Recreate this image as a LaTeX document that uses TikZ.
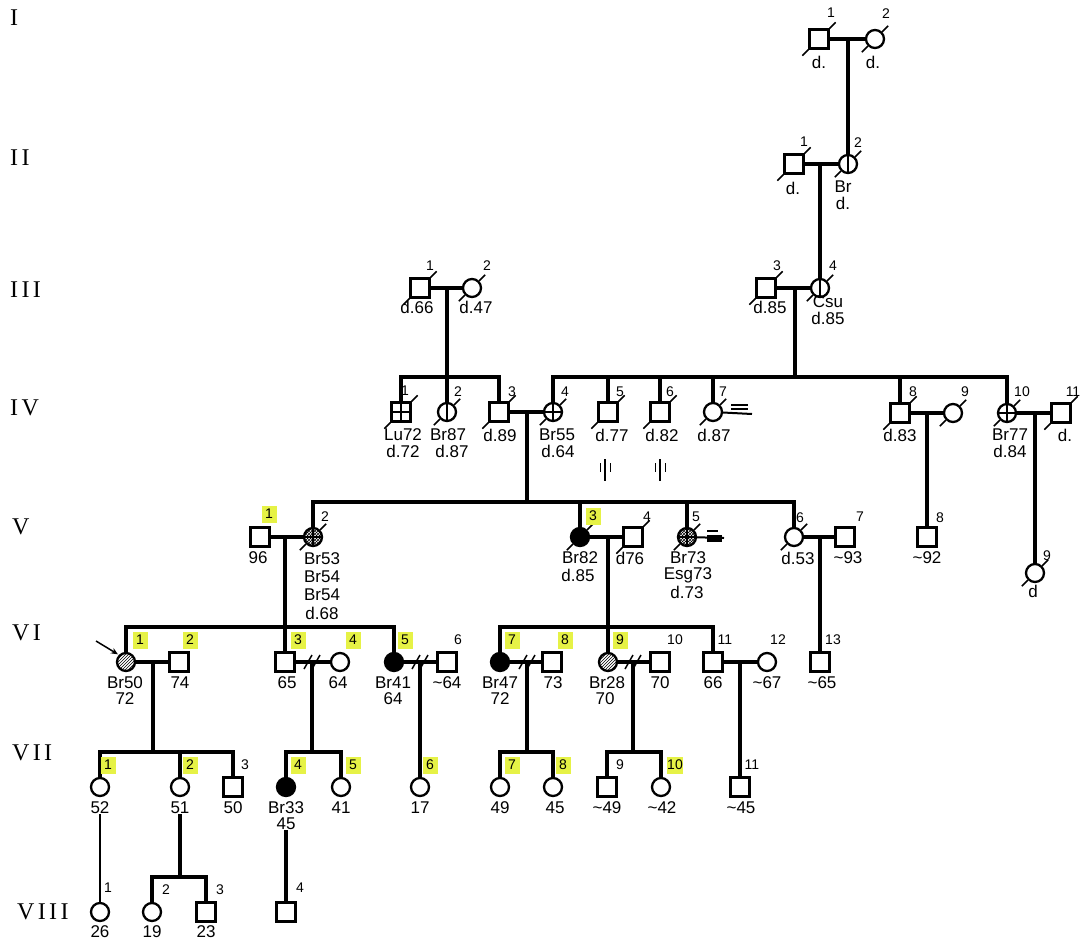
\documentclass[tikz,border=0pt]{standalone}
\usepackage{fontspec}
\setmainfont{Liberation Sans}
\newfontfamily\romfont[LetterSpace=14]{Liberation Serif}
\usetikzlibrary{patterns,arrows.meta}
\definecolor{hl}{RGB}{230,242,70}
\newcommand\lblfont{\fontsize{17}{18}\selectfont}
\newcommand\numfont{\fontsize{14}{15}\selectfont}
\newcommand\genfont{\romfont\fontsize{24}{25}\selectfont}
\newcommand\ttl{\textasciitilde}
\newcommand\dead[1]{\draw[tick] (#1.north east) -- ++(6,-6); \draw[tick] (#1.south west) -- ++(-6,6);}
\newcommand\vbar[1]{\draw[inner] (#1.north) -- (#1.south);}
\newcommand\cross[1]{\draw[inner] (#1.north) -- (#1.south); \draw[inner] (#1.west) -- (#1.east);}
\newcommand\divmark[2]{\draw[tick] (#1-8,#2+7) -- (#1,#2-7); \draw[tick] (#1,#2+7) -- (#1+8,#2-7);}
\begin{document}
\begin{tikzpicture}[x=1pt,y=-1pt,
  conn/.style={line width=3.2pt},
  thinconn/.style={line width=1.3pt},
  sq/.style={draw, rectangle, minimum size=19pt, inner sep=0pt, line width=2.3pt, fill=white},
  ci/.style={draw, circle, minimum size=18pt, inner sep=0pt, line width=2.3pt, fill=white},
  aff/.style={fill=black},
  hatch/.style={pattern=north east lines},
  dots/.style={pattern=crosshatch},
  tick/.style={line width=1.5pt},
  inner/.style={line width=1.8pt},
  lbl/.style={font=\lblfont, inner sep=0pt},
  num/.style={font=\numfont, inner sep=0pt},
  hlnum/.style={font=\numfont, inner sep=0pt, fill=hl, minimum width=15pt, minimum height=17pt},
  gen/.style={font=\genfont, anchor=west, inner sep=0pt}]
\fill[white] (0,0) rectangle (1083,942);
\useasboundingbox (0,0) rectangle (1083,942);

% generation labels
\node[gen] (gI) at (10,18) {I};
\node[gen] (gII) at (10,158) {II};
\node[gen] (gIII) at (10,290) {III};
\node[gen] (gIV) at (10,408) {IV};
\node[gen] (gV) at (12,527) {V};
\node[gen] (gVI) at (12,633) {VI};
\node[gen] (gVII) at (12,753) {VII};
\node[gen] (gVIII) at (17,912) {VIII};

% ---------- symbols ----------
% I
\node[sq] (I1) at (819,39) {};
\node[ci] (I2) at (875,39) {};
% II
\node[sq] (II1) at (794,164) {};
\node[ci] (II2) at (848,164) {};
% III
\node[sq] (III1) at (420,288) {};
\node[ci] (III2) at (472,288) {};
\node[sq] (III3) at (766,288) {};
\node[ci] (III4) at (820,288) {};
% IV
\node[sq] (IV1) at (401,412) {};
\node[ci] (IV2) at (447,412) {};
\node[sq] (IV3) at (499,412) {};
\node[ci] (IV4) at (553,412) {};
\node[sq] (IV5) at (608,412) {};
\node[sq] (IV6) at (660,412) {};
\node[ci] (IV7) at (713,412) {};
\node[sq] (IV8) at (900,413) {};
\node[ci] (IV9) at (953,413) {};
\node[ci] (IV10) at (1007,413) {};
\node[sq] (IV11) at (1061,413) {};
% V
\node[sq] (V1) at (260,537) {};
\node[ci,dots] (V2) at (313,537) {};
\node[ci,aff] (V3) at (580,537) {};
\node[sq] (V4) at (633,537) {};
\node[ci,dots] (V5) at (687,537) {};
\node[ci] (V6) at (794,537) {};
\node[sq] (V7) at (845,537) {};
\node[sq] (V8) at (927,537) {};
\node[ci] (V9) at (1035,573) {};
% VI
\node[ci,hatch] (VI1) at (126,662) {};
\node[sq] (VI2) at (179,662) {};
\node[sq] (VI3) at (285,662) {};
\node[ci] (VI4) at (340,662) {};
\node[ci,aff] (VI5) at (394,662) {};
\node[sq] (VI6) at (447,662) {};
\node[ci,aff] (VI7) at (500,662) {};
\node[sq] (VI8) at (552,662) {};
\node[ci,hatch] (VI9) at (608,662) {};
\node[sq] (VI10) at (660,662) {};
\node[sq] (VI11) at (713,662) {};
\node[ci] (VI12) at (767,662) {};
\node[sq] (VI13) at (820,662) {};
% VII
\node[ci] (VII1) at (100,787) {};
\node[ci] (VII2) at (180,787) {};
\node[sq] (VII3) at (233,787) {};
\node[ci,aff] (VII4) at (286,787) {};
\node[ci] (VII5) at (341,787) {};
\node[ci] (VII6) at (420,787) {};
\node[ci] (VII7) at (500,787) {};
\node[ci] (VII8) at (553,787) {};
\node[sq] (VII9) at (607,787) {};
\node[ci] (VII10) at (661,787) {};
\node[sq] (VII11) at (740,787) {};
% VIII
\node[ci] (VIII1) at (100,912) {};
\node[ci] (VIII2) at (152,912) {};
\node[sq] (VIII3) at (206,912) {};
\node[sq] (VIII4) at (286,912) {};

% ---------- symbol marks ----------
\vbar{II2} \vbar{III4} \vbar{IV2}
\cross{IV4} \cross{IV10} \cross{V2} \cross{V5}
\draw[line width=2.6pt] (IV1.north) -- (IV1.south);
\draw[line width=2.6pt] (IV1.west) -- (IV1.east);
\foreach \p in {I1,I2,II1,II2,III1,III2,III3,III4,IV1,IV2,IV3,IV4,IV5,IV6,IV7,IV8,IV9,IV10,IV11,V2,V3,V4,V5,V6,V9}{\dead{\p}}

% ---------- coordinates ----------
\coordinate (mI) at (848,39);
\coordinate (mII) at (820,164);
\coordinate (mIIIa) at (447,288);
\coordinate (mIIIb) at (795,288);
\coordinate (sIVa) at (447,377);
\coordinate (sIVb) at (795,377);
\coordinate (mIVa) at (527,412);
\coordinate (mIVb) at (927,413);
\coordinate (mIVc) at (1035,413);
\coordinate (sVa) at (527,502);
\coordinate (mVa) at (285,537);
\coordinate (mVb) at (608,537);
\coordinate (mVc) at (820,537);
\coordinate (sVIa) at (285,627);
\coordinate (sVIb) at (608,627);
\coordinate (mVIa) at (153,662);
\coordinate (mVIb) at (312,662);
\coordinate (mVIc) at (420,662);
\coordinate (mVId) at (527,662);
\coordinate (mVIe) at (633,662);
\coordinate (mVIf) at (740,662);
\coordinate (sVIIa) at (153,752);
\coordinate (sVIIb) at (312,752);
\coordinate (sVIIc) at (527,752);
\coordinate (sVIId) at (633,752);
\coordinate (sVIIIa) at (180,877);

% ---------- connectors ----------
\draw[conn] (I1) -- (I2);
\draw[conn] (mI) -- (II2);
\draw[conn] (II1) -- (II2);
\draw[conn] (mII) -- (III4);
\draw[conn] (III1) -- (III2);
\draw[conn] (mIIIa) -- (sIVa);
\draw[conn] (III3) -- (III4);
\draw[conn] (mIIIb) -- (sIVb);
\draw[conn] (IV1) |- (sIVa) -| (IV3);
\draw[conn] (sIVa) -- (IV2);
\draw[conn] (IV4) |- (sIVb) -| (IV10);
\foreach \p in {IV5,IV6,IV7,IV8}{\draw[conn] (\p |- sIVb) -- (\p);}
\draw[conn] (IV3) -- (IV4);
\draw[conn] (mIVa) -- (sVa);
\draw[conn] (IV8) -- (IV9);
\draw[conn] (mIVb) -- (V8);
\draw[conn] (IV10) -- (IV11);
\draw[conn] (mIVc) -- (V9);
% IV-7 sign
\coordinate (eIV7) at (752,414);
\draw[line width=2pt] (IV7) -- (eIV7);
\draw[line width=1.1pt] (731,405) -- (748,405);
\draw[line width=1.1pt] (731,409) -- (748,409);
% V sibship
\draw[conn] (V2) |- (sVa) -| (V6);
\draw[conn] (V3 |- sVa) -- (V3);
\draw[conn] (V5 |- sVa) -- (V5);
\draw[conn] (V1) -- (V2);
\draw[conn] (mVa) -- (sVIa);
\draw[conn] (V3) -- (V4);
\draw[conn] (mVb) -- (sVIb);
\draw[conn] (V6) -- (V7);
\draw[conn] (mVc) -- (VI13);
% V-5 sign
\coordinate (eV5) at (724,538);
\draw[line width=2pt] (V5) -- (eV5);
\fill (707,535) rectangle (722,541.5);
\draw[line width=1.1pt] (707,531) -- (718,531);
% markers between IV and V
\draw[line width=2pt] (605,459) -- (605,481);
\draw[line width=1pt] (600,463) -- (600,472);
\draw[line width=1pt] (610,463) -- (610,472);
\draw[line width=2pt] (660,459) -- (660,481);
\draw[line width=1pt] (655,463) -- (655,472);
\draw[line width=1pt] (665,463) -- (665,472);
% VI sibships
\draw[conn] (VI1) |- (sVIa) -| (VI5);
\draw[conn] (sVIa) -- (VI3);
\draw[conn] (VI7) |- (sVIb) -| (VI11);
\draw[conn] (sVIb) -- (VI9);
% VI couples
\draw[conn] (VI1) -- (VI2);
\draw[conn] (mVIa) -- (sVIIa);
\draw[conn] (VI3) -- (VI4);
\draw[conn] (mVIb) -- (sVIIb);
\divmark{312}{662}
\draw[conn] (VI5) -- (VI6);
\draw[conn] (mVIc) -- (VII6);
\divmark{420}{662}
\draw[conn] (VI7) -- (VI8);
\draw[conn] (mVId) -- (sVIIc);
\divmark{527}{662}
\draw[conn] (VI9) -- (VI10);
\draw[conn] (mVIe) -- (sVIId);
\divmark{633}{662}
\draw[conn] (VI11) -- (VI12);
\draw[conn] (mVIf) -- (VII11);
% VII sibships
\draw[conn] (VII1) |- (sVIIa) -| (VII3);
\draw[conn] (VII2 |- sVIIa) -- (VII2);
\draw[conn] (VII4) |- (sVIIb) -| (VII5);
\draw[conn] (VII7) |- (sVIIc) -| (VII8);
\draw[conn] (VII9) |- (sVIId) -| (VII10);
% proband arrow
\coordinate (arr) at (96,641);
\draw[line width=1.5pt,-{Stealth[length=7pt,width=6pt]},shorten >=1pt] (arr) -- (VI1.north west);

% ---------- labels ----------
\node[lbl] (lI1) at (819,62) {d.};
\node[lbl] (lI2) at (873,62) {d.};
\node[lbl] (lII1) at (793,188) {d.};
\node[lbl] (lII2a) at (843,187) {Br};
\node[lbl] (lII2b) at (843,203) {d.};
\node[lbl] (lIII1) at (417,307) {d.66};
\node[lbl] (lIII2) at (476,307) {d.47};
\node[lbl] (lIII3) at (770,307) {d.85};
\node[lbl] (lIII4a) at (828,302) {Csu};
\node[lbl] (lIII4b) at (828,318) {d.85};
\node[lbl] (lIV1a) at (403,435) {Lu72};
\node[lbl] (lIV1b) at (403,451) {d.72};
\node[lbl] (lIV2a) at (448,435) {Br87};
\node[lbl] (lIV2b) at (452,451) {d.87};
\node[lbl] (lIV3) at (500,435) {d.89};
\node[lbl] (lIV4a) at (557,435) {Br55};
\node[lbl] (lIV4b) at (558,451) {d.64};
\node[lbl] (lIV5) at (612,435) {d.77};
\node[lbl] (lIV6) at (662,435) {d.82};
\node[lbl] (lIV7) at (714,435) {d.87};
\node[lbl] (lIV8) at (900,435) {d.83};
\node[lbl] (lIV10a) at (1010,435) {Br77};
\node[lbl] (lIV10b) at (1010,451) {d.84};
\node[lbl] (lIV11) at (1065,435) {d.};
\node[lbl] (lV1) at (258,558) {96};
\node[lbl] (lV2a) at (322,559) {Br53};
\node[lbl] (lV2b) at (322,577) {Br54};
\node[lbl] (lV2c) at (322,595) {Br54};
\node[lbl] (lV2d) at (322,613) {d.68};
\node[lbl] (lV3a) at (580,558) {Br82};
\node[lbl] (lV3b) at (578,575) {d.85};
\node[lbl] (lV4) at (630,558) {d76};
\node[lbl] (lV5a) at (688,558) {Br73};
\node[lbl] (lV5b) at (688,575) {Esg73};
\node[lbl] (lV5c) at (687,592) {d.73};
\node[lbl] (lV6) at (798,558) {d.53};
\node[lbl] (lV7) at (848,558) {\ttl93};
\node[lbl] (lV8) at (927,558) {\ttl92};
\node[lbl] (lV9) at (1033,591) {d};
\node[lbl] (lVI1a) at (125,683) {Br50};
\node[lbl] (lVI1b) at (125,699) {72};
\node[lbl] (lVI2) at (180,683) {74};
\node[lbl] (lVI3) at (287,683) {65};
\node[lbl] (lVI4) at (338,683) {64};
\node[lbl] (lVI5a) at (393,683) {Br41};
\node[lbl] (lVI5b) at (393,699) {64};
\node[lbl] (lVI6) at (447,683) {\ttl64};
\node[lbl] (lVI7a) at (500,683) {Br47};
\node[lbl] (lVI7b) at (500,699) {72};
\node[lbl] (lVI8) at (553,683) {73};
\node[lbl] (lVI9a) at (607,683) {Br28};
\node[lbl] (lVI9b) at (605,699) {70};
\node[lbl] (lVI10) at (660,683) {70};
\node[lbl] (lVI11) at (713,683) {66};
\node[lbl] (lVI12) at (767,683) {\ttl67};
\node[lbl] (lVI13) at (822,683) {\ttl65};
\node[lbl] (lVII1) at (100,808) {52};
\node[lbl] (lVII2) at (180,808) {51};
\node[lbl] (lVII3) at (233,808) {50};
\node[lbl] (lVII4a) at (286,808) {Br33};
\node[lbl] (lVII4b) at (286,824) {45};
\node[lbl] (lVII5) at (341,808) {41};
\node[lbl] (lVII6) at (420,808) {17};
\node[lbl] (lVII7) at (500,808) {49};
\node[lbl] (lVII8) at (555,808) {45};
\node[lbl] (lVII9) at (607,808) {\ttl49};
\node[lbl] (lVII10) at (662,808) {\ttl42};
\node[lbl] (lVII11) at (741,808) {\ttl45};
\node[lbl] (lVIII1) at (100,932) {26};
\node[lbl] (lVIII2) at (152,932) {19};
\node[lbl] (lVIII3) at (206,932) {23};

% VII -> VIII
\draw[thinconn] (lVII1) -- (VIII1);
\draw[conn] (lVII2) -- (sVIIIa);
\draw[conn] (VIII2) |- (sVIIIa) -| (VIII3);
\draw[conn] (lVII4b) -- (VIII4);

% ---------- numbers ----------
\node[num] (nI1) at (831,13) {1};
\node[num] (nI2) at (886,14) {2};
\node[num] (nII1) at (804,142) {1};
\node[num] (nII2) at (858,143) {2};
\node[num] (nIII1) at (430,266) {1};
\node[num] (nIII2) at (487,266) {2};
\node[num] (nIII3) at (777,266) {3};
\node[num] (nIII4) at (833,266) {4};
\node[num] (nIV1) at (405,391) {1};
\node[num] (nIV2) at (458,392) {2};
\node[num] (nIV3) at (512,392) {3};
\node[num] (nIV4) at (565,392) {4};
\node[num] (nIV5) at (620,392) {5};
\node[num] (nIV6) at (670,392) {6};
\node[num] (nIV7) at (723,392) {7};
\node[num] (nIV8) at (913,392) {8};
\node[num] (nIV9) at (965,392) {9};
\node[num] (nIV10) at (1022,392) {10};
\node[num] (nIV11) at (1073,392) {11};
\node[hlnum] (nV1) at (269,514) {1};
\node[num] (nV2) at (325,517) {2};
\node[hlnum] (nV3) at (593,516) {3};
\node[num] (nV4) at (647,517) {4};
\node[num] (nV5) at (696,517) {5};
\node[num] (nV6) at (800,518) {6};
\node[num] (nV7) at (860,517) {7};
\node[num] (nV8) at (940,518) {8};
\node[num] (nV9) at (1047,556) {9};
\node[hlnum] (nVI1) at (140,640) {1};
\node[hlnum] (nVI2) at (190,640) {2};
\node[hlnum] (nVI3) at (298,640) {3};
\node[hlnum] (nVI4) at (353,640) {4};
\node[hlnum] (nVI5) at (405,640) {5};
\node[num] (nVI6) at (458,640) {6};
\node[hlnum] (nVI7) at (512,640) {7};
\node[hlnum] (nVI8) at (565,640) {8};
\node[hlnum] (nVI9) at (620,640) {9};
\node[num] (nVI10) at (675,640) {10};
\node[num] (nVI11) at (725,640) {11};
\node[num] (nVI12) at (778,640) {12};
\node[num] (nVI13) at (833,640) {13};
\node[hlnum] (nVII1) at (108,765) {1};
\node[hlnum] (nVII2) at (190,765) {2};
\node[num] (nVII3) at (245,765) {3};
\node[hlnum] (nVII4) at (298,765) {4};
\node[hlnum] (nVII5) at (353,765) {5};
\node[hlnum] (nVII6) at (430,765) {6};
\node[hlnum] (nVII7) at (512,765) {7};
\node[hlnum] (nVII8) at (563,765) {8};
\node[num] (nVII9) at (620,765) {9};
\node[hlnum] (nVII10) at (675,765) {10};
\node[num] (nVII11) at (752,765) {11};
\node[num] (nVIII1) at (108,888) {1};
\node[num] (nVIII2) at (166,890) {2};
\node[num] (nVIII3) at (220,890) {3};
\node[num] (nVIII4) at (300,888) {4};
\end{tikzpicture}
\end{document}
